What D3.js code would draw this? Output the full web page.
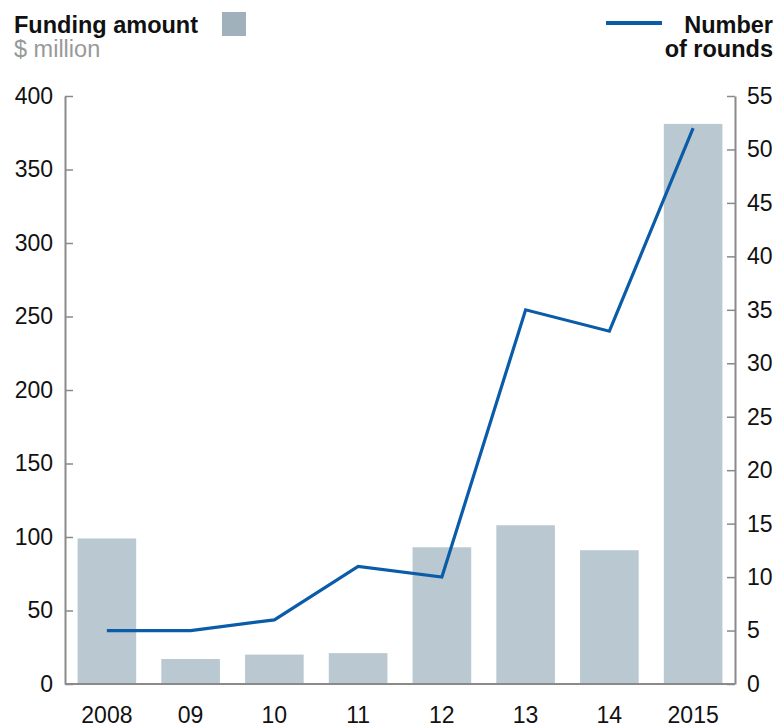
<!DOCTYPE html>
<html>
<head>
<meta charset="utf-8">
<script src="https://cdn.jsdelivr.net/npm/d3@7"></script>
<style>
  body { margin: 0; background: #fff; }
  svg { font-family: "Liberation Sans", Arial, sans-serif; }
</style>
</head>
<body>
<svg id="chart" width="776" height="727"></svg>
<script>
// Funding amount ($ million) and number of rounds per year
const years = ["2008", "09", "10", "11", "12", "13", "14", "2015"];
const funding = [99, 17, 20, 21, 93, 108, 91, 381];
const rounds = [5, 5, 6, 11, 10, 35, 33, 52];
const leftTicks = [0, 50, 100, 150, 200, 250, 300, 350, 400];
const rightTicks = [0, 5, 10, 15, 20, 25, 30, 35, 40, 45, 50, 55];

const svg = d3.select("#chart");
const plotLeft = 65, plotRight = 735, plotTop = 96, plotBottom = 684;

const x = d3.scaleBand().domain(years).range([plotLeft, plotRight]).paddingInner(0.3).paddingOuter(0.15);
const yL = d3.scaleLinear().domain([0, 400]).range([plotBottom, plotTop]);
const yR = d3.scaleLinear().domain([0, 55]).range([plotBottom, plotTop]);

const axisColor = "#8a8a8a";
const fontSize = 23;
const legendSize = 23.5;

// bars
svg.append("g").selectAll("rect").data(years).join("rect")
  .attr("x", d => x(d))
  .attr("width", x.bandwidth())
  .attr("y", (d, i) => yL(funding[i]))
  .attr("height", (d, i) => yL(0) - yL(funding[i]))
  .attr("fill", "#bac9d1");

// left axis
const gL = svg.append("g").attr("transform", `translate(${plotLeft},0)`)
  .call(d3.axisLeft(yL).tickValues(leftTicks).tickSize(-8).tickPadding(12).tickSizeOuter(0));
// right axis
const gR = svg.append("g").attr("transform", `translate(${plotRight},0)`)
  .call(d3.axisRight(yR).tickValues(rightTicks).tickSize(-8).tickPadding(12).tickSizeOuter(0));
[gL, gR].forEach(g => {
  g.select(".domain").attr("stroke", axisColor).attr("stroke-width", 2);
  g.selectAll(".tick line").attr("stroke", axisColor).attr("stroke-width", 1.5);
  g.selectAll(".tick text").attr("fill", "#111").attr("font-size", fontSize)
    .attr("font-family", "Liberation Sans, Arial, sans-serif");
});

// baseline and x labels
svg.append("line").attr("x1", plotLeft).attr("x2", plotRight).attr("y1", plotBottom).attr("y2", plotBottom)
  .attr("stroke", axisColor).attr("stroke-width", 2);
const gX = svg.append("g").attr("transform", `translate(0,${plotBottom})`)
  .call(d3.axisBottom(x).tickSize(0).tickPadding(23));
gX.select(".domain").remove();
gX.selectAll(".tick text").attr("fill", "#111").attr("font-size", fontSize)
  .attr("font-family", "Liberation Sans, Arial, sans-serif");

// rounds line
const line = d3.line()
  .x((d, i) => x(years[i]) + x.bandwidth() / 2)
  .y(d => yR(d));
svg.append("path").datum(rounds).attr("d", line)
  .attr("fill", "none").attr("stroke", "#0a5ca8").attr("stroke-width", 3.2)
  .attr("stroke-linejoin", "miter");

// legends
svg.append("text").attr("x", 14).attr("y", 33).text("Funding amount")
  .attr("font-weight", "bold").attr("font-size", legendSize).attr("fill", "#111");
svg.append("rect").attr("x", 222).attr("y", 12).attr("width", 24).attr("height", 24).attr("fill", "#a0b1bb");
svg.append("text").attr("x", 14).attr("y", 57).text("$ million")
  .attr("font-size", legendSize).attr("fill", "#999");

svg.append("line").attr("x1", 606).attr("x2", 662).attr("y1", 23).attr("y2", 23)
  .attr("stroke", "#0a5ca8").attr("stroke-width", 4);
svg.append("text").attr("x", 773).attr("y", 33).attr("text-anchor", "end").text("Number")
  .attr("font-weight", "bold").attr("font-size", legendSize).attr("fill", "#111");
svg.append("text").attr("x", 773).attr("y", 57).attr("text-anchor", "end").text("of rounds")
  .attr("font-weight", "bold").attr("font-size", legendSize).attr("fill", "#111");
</script>
</body>
</html>
